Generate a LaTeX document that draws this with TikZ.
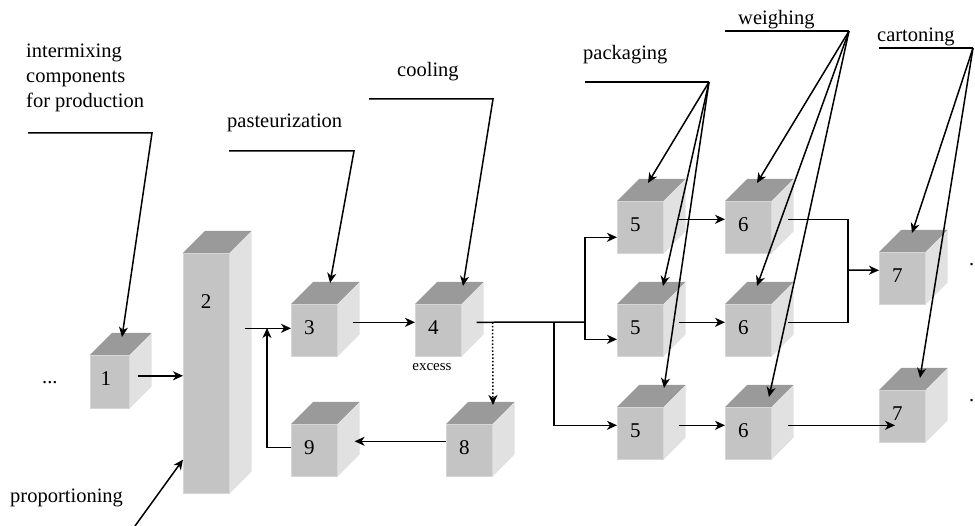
\documentclass[tikz,border=0pt]{standalone}
\usepackage{fontspec}
\setmainfont{Liberation Serif}
\usetikzlibrary{arrows.meta}
\definecolor{ctop}{HTML}{9A9A9A}
\definecolor{cfront}{HTML}{C4C4C4}
\definecolor{cside}{HTML}{E1E1E1}
\begin{document}
\begin{tikzpicture}[x=1pt,y=-1pt,
  cube/.style={rectangle, fill=cfront, draw=cfront!70!white, line width=0.6pt,
    inner sep=0pt, anchor=north west, minimum width=46pt, minimum height=52pt,
    font=\rmfamily\fontsize{21}{21}\selectfont, text depth=6pt},
  lbl/.style={font=\rmfamily\fontsize{20.5}{25}\selectfont, inner sep=0pt, anchor=base west},
  small/.style={font=\rmfamily\fontsize{15}{15}\selectfont, inner sep=0pt, anchor=base},
  lead/.style={line width=1.5pt},
  arr/.style={line width=1.5pt, -{Stealth[length=10pt,width=9pt,inset=3pt]}},
  line cap=butt]
\useasboundingbox (0,0) rectangle (975,526);

% front faces of the units
\node[cube, minimum width=39pt, minimum height=53pt] (c1) at (90,355) {1\kern8pt};
\node[cube, minimum height=240pt] (c2) at (183,253) {};
\node[cube] (c3) at (291,304) {3\kern10pt};
\node[cube] (c4) at (415,304) {4\kern10pt};
\node[cube] (c8) at (446,424) {8\kern10pt};
\node[cube] (c9) at (291,424) {9\kern10pt};
\node[cube] (c5a) at (617,201) {5\kern10pt};
\node[cube] (c5b) at (617,304) {5\kern10pt};
\node[cube] (c5c) at (617,407) {5\kern10pt};
\node[cube] (c6a) at (725,201) {6\kern10pt};
\node[cube] (c6b) at (725,304) {6\kern10pt};
\node[cube] (c6c) at (725,407) {6\kern10pt};
\node[cube] (c7a) at (879,252) {7\kern10pt};
\node[cube] (c7b) at (879,390) {7\kern10pt};
\node[font=\rmfamily\fontsize{21}{21}\selectfont, inner sep=0pt] (c2num) at ([shift={(23,49)}]c2.north west) {2};

% top and side faces
\foreach \c in {c1,c2,c3,c4,c8,c9,c5a,c5b,c5c,c6a,c6b,c6c,c7a,c7b}{
  \fill[ctop] (\c.north west) -- ([shift={(22,-22)}]\c.north west)
     -- ([shift={(22,-22)}]\c.north east) -- (\c.north east) -- cycle;
  \fill[cside] (\c.north east) -- ([shift={(22,-22)}]\c.north east)
     -- ([shift={(22,-22)}]\c.south east) -- (\c.south east) -- cycle;
}

% texts
\node[lbl, align=left, anchor=north west] (tmix) at (26,44) {intermixing\\components\\for production};
\node[lbl] (tpast) at (227,128) {pasteurization};
\node[lbl] (tcool) at (397,77) {cooling};
\node[lbl] (tpack) at (583,60) {packaging};
\node[lbl] (tweigh) at (738,25) {weighing};
\node[lbl] (tcart) at (877,42) {cartoning};
\node[lbl] (tprop) at (10,503) {proportioning};
\node[lbl] (tdots) at (42,384) {...};
\node[small] (texcess) at (432,371) {excess};
\node[lbl] (dotA) at (969,266) {.};
\node[lbl] (dotB) at (969,402) {.};

% leader bends
\coordinate (mixA) at (28,133);   \coordinate (mixB) at (152,133);
\coordinate (pastA) at (229,151); \coordinate (pastB) at (354,151);
\coordinate (coolA) at (369,99);  \coordinate (coolB) at (493,99);
\coordinate (packA) at (585,82);  \coordinate (packB) at (709,82);
\coordinate (weighA) at (725,31); \coordinate (weighB) at (849,31);
\coordinate (cartA) at (879,48);  \coordinate (cartB) at (973,48);
\coordinate (propA) at (135,526);

% process leaders
\draw[arr] (mixA) -- (mixB) -- ([shift={(32,-18)}]c1.north west);
\draw[arr] (pastA) -- (pastB) -- ([shift={(39,-21)}]c3.north west);
\draw[arr] (coolA) -- (coolB) -- ([shift={(48,-18)}]c4.north west);
\draw[arr] (propA) -- ([shift={(0,-34)}]c2.south west);
\draw[lead] (packA) -- (packB);
\draw[arr] (packB) -- ([shift={(31,-18)}]c5a.north west);
\draw[arr] (packB) -- ([shift={(46,-18)}]c5b.north west);
\draw[arr] (packB) -- ([shift={(47,-19)}]c5c.north west);
\draw[lead] (weighA) -- (weighB);
\draw[arr] (weighB) -- ([shift={(32,-18)}]c6a.north west);
\draw[arr] (weighB) -- ([shift={(32,-18)}]c6b.north west);
\draw[arr] (weighB) -- ([shift={(44,-10)}]c6c.north west);
\draw[lead] (cartA) -- (cartB);
\draw[arr] (cartB) -- ([shift={(33,-19)}]c7a.north west);
\draw[arr] (cartB) -- ([shift={(41,-12)}]c7b.north west);

% product flow
\draw[arr] ([shift={(8,-6)}]c1.east) -- ([shift={(0,-6)}]c1.east -| c2.west);
\draw[arr] ([shift={(15,-2)}]c2.east |- c3.west) -- ([shift={(0,-2)}]c3.west);
\coordinate (merge) at (267,328);
\draw[arr] ([shift={(0,-3)}]c9.west) -| (merge);
\draw[arr] ([shift={(15,-8)}]c3.east) -- ([shift={(0,-8)}]c4.west);
\coordinate (split) at (585,322);
\coordinate (splitlow) at (554,322);
\draw[lead] ([shift={(15,-8)}]c4.east) -- (split);
\draw[arr] (split) |- ([shift={(0,10)}]c5a.west);
\draw[arr] (split) |- ([shift={(0,9)}]c5b.west);
\draw[arr] (splitlow) |- ([shift={(0,-8)}]c5c.west);
\draw[arr, dotted] ([shift={(31,-8)}]c4.east) -- ([shift={(47,-19)}]c8.north west);
\draw[arr] ([shift={(0,-9)}]c8.west) -- ([shift={(17,-9)}]c9.east);
\draw[arr] ([shift={(15,-8)}]c5a.east) -- ([shift={(0,-8)}]c6a.west);
\draw[arr] ([shift={(15,-8)}]c5b.east) -- ([shift={(0,-8)}]c6b.west);
\draw[arr] ([shift={(15,-8)}]c5c.east) -- ([shift={(0,-8)}]c6c.west);
\coordinate (join7) at (848,270);
\draw[lead] ([shift={(16,-8)}]c6a.east) -| (join7);
\draw[lead] ([shift={(16,-8)}]c6b.east) -| (join7);
\draw[arr] (join7) -- ([shift={(0,-8)}]c7a.west);
\draw[arr] ([shift={(16,-8)}]c6c.east) -- ([shift={(16,-8)}]c6c.east -| c7b.west);
\end{tikzpicture}
\end{document}
